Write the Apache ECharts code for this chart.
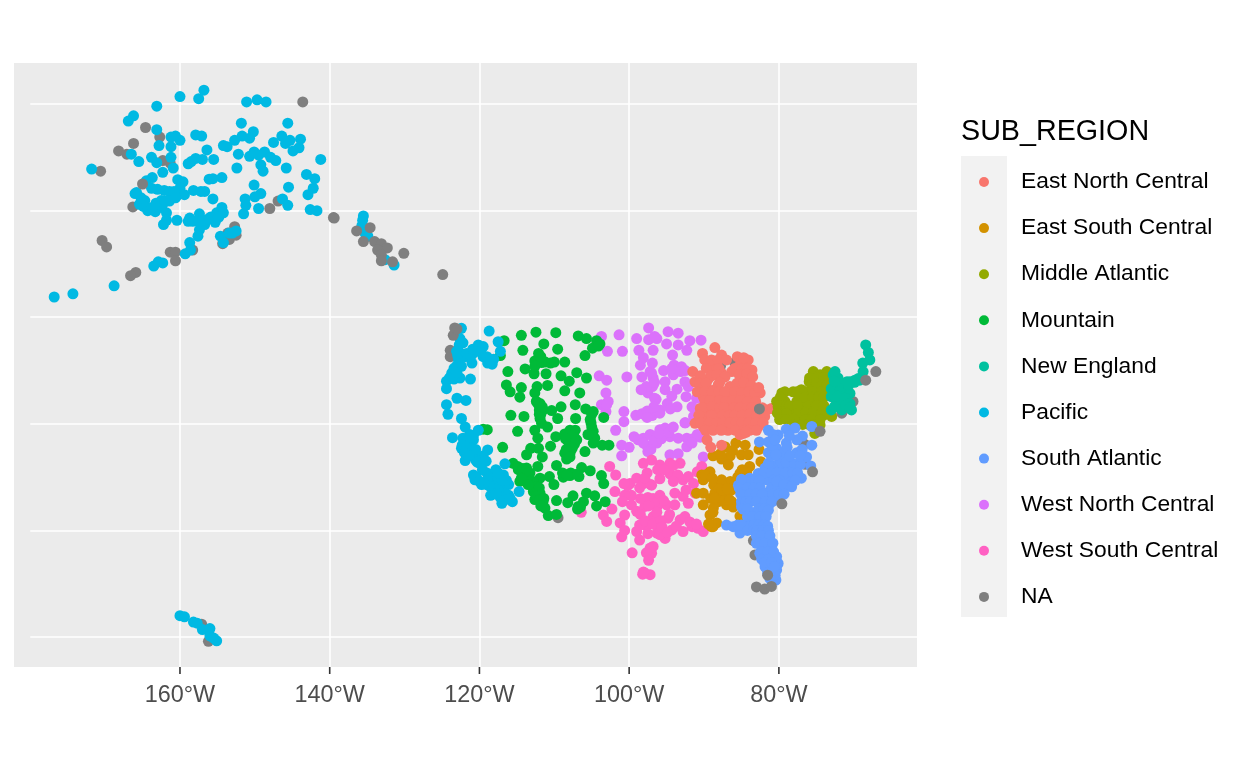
<!DOCTYPE html>
<html><head><meta charset="utf-8">
<style>html,body{margin:0;padding:0;background:#fff}#c{width:1248px;height:768px}</style>
<script src="https://cdn.jsdelivr.net/npm/echarts@6/dist/echarts.min.js"></script>
</head><body><div id="c"></div>
<script>
const lonTicks=[-160,-140,-120,-100,-80];
const latLines=[70,60,50,40,30,20];
const regionNames=['East North Central','East South Central','Middle Atlantic','Mountain','New England','Pacific','South Atlantic','West North Central','West South Central','NA'];
const regionColors=['#F8766D','#D39200','#93AA00','#00BA38','#00C19F','#00B9E3','#619CFF','#DB72FB','#FF61C3','#7F7F7F'];

const pacific=[[-156.8,71.3],[-157.5,70.5],[-160,70.7],[-163.1,69.8],[-151.1,70.2],[-149.7,70.4],[-148.5,70.2],[-166.2,68.9],[-166.9,68.4],[-163.1,67.6],[-151.8,68.2],[-145.6,68.2],[-157.9,67.1],[-157.1,67],[-160.6,67],[-161.2,66.9],[-160,66.6],[-150.2,67.4],[-151.7,67],[-150.7,66.8],[-152.7,66.6],[-146.4,67],[-145.3,66.6],[-145.9,66.3],[-143.9,66.7],[-147.5,66.4],[-162.8,66.1],[-161.2,66],[-154.2,66.1],[-153.7,66],[-156.4,65.7],[-144.1,65.9],[-144.9,65.6],[-166.5,65.3],[-150.1,65.5],[-150.7,65.1],[-148.7,65.5],[-149.5,65.2],[-152.2,65.3],[-147.9,65],[-147.2,64.7],[-141.2,64.8],[-163.8,65],[-163.1,64.5],[-161.2,65],[-165.5,64.6],[-155.5,64.8],[-157,64.8],[-157.9,64.9],[-158.5,64.6],[-158.9,64.4],[-149.2,64.3],[-148.9,63.7],[-152.4,64],[-145.8,64],[-160.9,64],[-162.3,63.6],[-171.8,63.9],[-143.1,63.4],[-142,63],[-163.7,63.1],[-164.5,62.8],[-154.4,63.1],[-156.1,62.95],[-155.6,63],[-160.3,62.9],[-159.6,62.7],[-150.1,62.4],[-142.2,62.1],[-145.5,62.2],[-163.8,62.1],[-163,62],[-162.1,61.9],[-161.4,61.8],[-160,62.1],[-160.2,61.5],[-159.4,61.5],[-158.2,61.9],[-157.2,61.8],[-156.7,61.8],[-165.8,61.7],[-166,61.6],[-142.9,61.5],[-149.2,61.6],[-150,61.3],[-151.3,61.1],[-155.6,61.1],[-146.3,61.1],[-164.7,60.95],[-165.4,60.6],[-162.5,60.95],[-161.4,60.9],[-162.3,60.6],[-151.2,60.5],[-145.6,60.5],[-164.9,60.4],[-164.3,60],[-163.3,59.9],[-162.5,60.3],[-161.8,59.8],[-149.5,60.2],[-142.6,60.1],[-141.7,60],[-154.4,60.3],[-155.1,59.8],[-154.2,59.8],[-151.5,59.7],[-157.4,59.7],[-155.9,59.4],[-158.7,59.3],[-160.4,59.1],[-158.9,59],[-161.8,59.1],[-162.2,58.7],[-155.3,58.9],[-156.7,58.7],[-157.1,58.8],[-157.4,58.2],[-157.6,57.6],[-154.6,57.6],[-154.2,57],[-153.4,57.9],[-152.5,58.1],[-158.7,57],[-158.6,56.3],[-159.3,55.95],[-162.3,55.1],[-162.9,55.2],[-163.5,54.8],[-168.8,52.95],[-174.3,52.2],[-176.8,51.9],[-163.2,60.7],[-163.7,60.3],[-162,60.9],[-160.8,61.8],[-160.6,61.2],[-158.3,59],[-156.3,59.2],[-154.8,59.4],[-153,57.9],[-157.4,59],[-165.2,61.2],
[-135.5,59.5],[-135.6,59.1],[-135.7,58.6],[-135.3,57.9],[-134.9,57.6],[-132.6,55.4],[-131.4,54.9],
[-160,22],[-159.4,21.9],[-158.2,21.4],[-157.7,21.3],[-157,20.7],[-156,20.8],[-156,20.1],[-155.1,19.65],[-155.5,19.9],
[-122.4,48.96],[-122.6,48],[-122.7,47.4],[-123.05,46.8],[-122.8,46],[-123.1,45.4],[-123.7,44.75],[-124.4,44],[-124.4,43.3],[-122.6,44.3],[-121.2,44.2],[-118.7,48.7],[-120.15,47.4],[-119.5,47.25],[-117.5,47.7],[-117.2,46.8],[-121,46.5],[-121.9,46.3],[-121,45.7],[-119.5,46.3],[-118.8,45.8],[-118.1,46.05],[-118.9,45.7],[-123,42.4],[-121.8,42.2],[-124.4,41.8],[-124.2,40.9],[-122.4,40.5],[-121.9,39.7],[-120.15,39.4],[-123.6,38.7],[-121.3,39],[-120.8,38.5],[-122.2,38.65],[-122.4,37.7],[-121,37.7],[-118.9,37.55],[-121.9,36.55],[-120,36.9],[-119.9,36.3],[-120.8,35.2],[-120.6,34.75],[-119,35.4],[-117.8,35.7],[-116.8,35.2],[-116.6,36.25],[-119.7,34.3],[-118.5,33.3],[-118.1,34.4],[-117.25,34.1],[-116.1,34.3],[-117,32.55],[-117.25,33.5],[-115.6,32.7],[-114.7,33.65],[-116.1,33.3],[-118.1,34.9],[-121,37.25],[-121.5,38.2],[-120.6,36.9],[-117.5,34.9],[-119,34.7],
[-123,48.4],[-122.2,47.6],[-122.9,46.4],[-122.5,46.6],[-123.4,45.2],[-124,44.3],[-123.4,44.2],[-121.7,46.6],[-120.9,47],[-119.8,46.7],[-119,46.3],[-118.3,45.6],[-118.5,46],[-122.4,45.4],[-123,44.8],[-122,38.3],[-122.3,38],[-121.4,37.5],[-121.7,37.9],[-121.2,37.3],[-122,37.3],[-120.5,37.6],[-120.8,38.9],[-121.2,38.7],[-119.5,37],[-120.5,36.6],[-121.4,37],[-120.3,36.4],[-119.1,36.5],[-119.6,35.7],[-117.6,34.4],[-116.9,33.4],[-116.6,33.5],[-117.2,33.1],[-117.5,33.8],[-118,33.9],[-118.5,34.1],[-119,34.3],[-118.7,34.2],[-117.7,33.4],[-116.6,32.9],[-116.4,34.7],[-117,34.7],[-117.5,35.4],[-116.8,32.8],[-115.9,33],[-120.4,35],[-119.4,34.4],[-120,34.6]];

const mountain=[[-114.4,48.3],[-112.45,48.6],[-109.8,48.55],[-106.8,48.25],[-105.7,48],[-104.35,47.8],[-104.9,47.1],[-116.7,47.8],[-111.4,47.5],[-114.2,46.9],[-109.55,47],[-112.1,46.6],[-112.6,45.9],[-111.2,45.8],[-110,45.8],[-110.5,45.7],[-108.6,45.8],[-105.9,46.4],[-117.2,46.4],[-116.2,44.9],[-113.9,45.15],[-112.7,44.7],[-111.1,44.7],[-109.1,44.5],[-107,44.8],[-105.7,44.3],[-108,44],[-116.4,43.65],[-115.9,43],[-114.4,43.4],[-110.9,43.6],[-112.3,43.5],[-112.6,42.9],[-108.6,43.1],[-106.6,42.9],[-114.6,42.5],[-112.4,42.1],[-112,41.3],[-110.35,41.25],[-109.1,41.6],[-107.2,41.8],[-105.8,41.4],[-104.8,41.15],[-115.8,40.8],[-114.05,40.7],[-111.9,40.5],[-109.55,40.5],[-107.15,40.5],[-105.2,40.4],[-103.4,40.6],[-111.7,40.05],[-110.9,39.7],[-105,39.7],[-104.8,39.3],[-114.9,39.3],[-112.6,39.4],[-112.2,38.65],[-109.8,38.8],[-108.6,39.05],[-107.2,39.4],[-107.7,38.65],[-107,38.5],[-104.6,38.65],[-104.8,38.2],[-103.6,38],[-102.7,38],[-118.95,39.45],[-119.5,39.5],[-116.9,37.8],[-113.15,37.7],[-112.1,37.7],[-113.7,37.1],[-111.6,36.9],[-110.5,37.9],[-108.6,37.25],[-107.9,37.25],[-108.35,36.7],[-105.9,37.4],[-115.5,36.3],[-114.8,35.7],[-113.7,35.85],[-114.15,35.2],[-114.6,34.6],[-112.2,36],[-109.7,36.1],[-108.9,35.4],[-107.9,35.15],[-108.8,35],[-106.7,35.05],[-106.35,35.9],[-105.2,35.6],[-110.65,35.05],[-111.9,34.9],[-112.8,34.6],[-110.05,34.3],[-103.7,35.15],[-103.4,34.4],[-112.8,33.65],[-111.9,33.5],[-112.6,32.9],[-111.5,32.7],[-111.25,32.1],[-110.8,31.4],[-109.7,31.5],[-109.7,32.8],[-108.2,32.6],[-107.5,33.25],[-106.8,32.25],[-106.1,32.7],[-105.7,33.5],[-104.6,33.25],[-104.35,32.3],[-103.2,32.7],[-111.9,41.9],[-108.1,38.3],[-107.9,39.4],[-105.2,39],[-113.25,35.4],[-113.7,34.75],[-112.4,34.1],[-111.5,41.3],
[-112.2,41.9],[-112,40.9],[-111.8,40.9],[-111.6,41.6],[-105,40.9],[-105.1,40.1],[-104.9,38.9],[-105.5,39],[-107.3,38.1],[-107.6,37.7],[-107.3,38.7],[-108.2,39],[-108.5,38.6],[-108.4,37.6],[-107.9,36.9],[-114.9,36],[-114.2,35.8],[-113.9,35.5],[-114.4,34.9],[-113.5,34.3],[-112,34],[-112.4,33.2],[-111.9,32.9],[-111.4,33],[-111.8,32.3],[-107.8,35.4],[-106.9,35.3],[-108.3,35.2],[-106.5,32.2],[-106.9,32],[-112.6,45.4],[-111.7,45.75],[-103.9,47.5],[-104.1,47.3],[-111.8,46.3]];

const westNorthCentral=[[-103.7,48.2],[-101.35,48.35],[-99,48],[-97.4,49],[-97.4,47.9],[-96.3,48],[-102.9,46.8],[-100.9,46.8],[-98.7,46.9],[-96.8,46.9],[-98.5,45.5],[-97.2,44.9],[-104,44.5],[-103,44.1],[-100.3,44.4],[-98.3,44.4],[-96.8,44.3],[-96.9,43.5],[-97.5,42.9],[-96.4,42.3],[-103.1,42.9],[-102.8,42.1],[-103.7,41.8],[-103.1,41.15],[-100.7,41.15],[-100.7,40.2],[-99.1,40.8],[-98.3,40.95],[-96.9,40.8],[-95.9,41.3],[-101.8,39.4],[-99.35,38.8],[-98.1,38.65],[-97.2,39],[-95.9,39.45],[-97.6,37.9],[-96.3,38.2],[-101,38],[-100,37.8],[-101,37],
[-96.6,48.2],[-94.8,48.65],[-93.45,48.5],[-95,47.5],[-93.45,47.4],[-91.9,47.8],[-90.4,47.85],[-92.3,46.9],[-94.2,46.45],[-94,45.5],[-93,45.35],[-92.55,43.95],[-95.2,43.95],[-95.2,43.2],[-93.6,43.25],[-94.3,42.6],[-96.6,42.4],[-92.4,42.55],[-91,42.4],[-93.6,41.6],[-97,40.8],[-91.6,41.6],[-91.4,40.7],[-92.55,40.1],[-97,44.75],[-96.8,43.65],[-95.2,39.6],[-96.3,38.8],[-94.55,38.8],[-92.3,38.65],[-90.5,38.75],[-93.45,38.65],[-97,38],[-92.3,37.85],[-94.55,37.1],[-93.45,37.2],[-90.1,36.9],
[-95.9,41],[-94.9,41.9],[-94.5,41.4],[-92.1,43.5],[-94.1,44.6],[-93.1,44.9],[-92.5,45],[-95.4,45],[-97.7,43.5],[-98.4,43.2],[-96.7,41.6],[-97.6,41.2],[-97.6,40.6],[-98.8,38.5],[-96.7,38.4],[-98.1,38.2],[-97.1,37.6],[-97.5,37.4],[-95.7,38.6],[-96,39.1],[-94.7,39.2],[-94.1,39.7],[-91.5,38.6],[-90.9,39],[-91.6,38.2],[-92.5,40.1],[-94.3,45.2],[-96.6,43.9],[-98.1,46.2],[-96.9,45.7],[-103,41.8]];

const westSouthCentral=[[-95.9,36.15],[-94.55,36.3],[-93.2,36.3],[-94.55,35.3],[-95.9,34.85],[-97,34.25],[-92.8,34.75],[-92.1,35.05],[-90.3,36],[-91.2,33.5],[-93.9,33.5],[-92.8,33.2],[-92.1,32.55],[-96.8,33],[-95,32.4],[-93.9,32.4],[-94.8,31.15],[-93.2,31],[-92.55,31.3],[-91.6,30.35],[-94.3,30.05],[-95.2,29.25],[-96.3,32.25],[-96.6,31],[-96.3,29.75],[-96.8,28.5],[-97,27.85],[-90.1,29.9],[-90.8,30.2],[-92.8,29.9],[-97.2,25.85],
[-102.6,36],[-101.8,35.2],[-97.6,35.4],[-97,36.6],[-98.1,36.3],[-99.9,34.4],[-99,34.9],[-98.1,34.4],[-97.1,34.3],[-101.9,33.65],[-98.6,34],[-99.7,32.4],[-99,31.8],[-97.2,32.9],[-95.9,33.3],[-96.3,32.25],[-97.9,32.25],[-96.8,31.3],[-102.3,32],[-103.45,31.45],[-103,30.85],[-100.6,31.45],[-101.2,30.7],[-99,29.9],[-101,29.4],[-97.7,30.4],[-106.4,31.7],[-97.9,26],[-99.6,27.9],[-98.6,29.1],[-95.9,29.6],[-97.2,28.35],[-98.2,25.9],[-100.6,30],[-98.6,30.5],
[-95.4,32.8],[-96.7,32.6],[-97.5,33.1],[-98.5,33],[-97.4,32.3],[-96.3,31.7],[-98.5,31.5],[-97.9,30.9],[-96.8,30.6],[-95.7,30.9],[-95.6,30.3],[-97.5,29.7],[-94.6,31.5],[-94.9,29.8],[-93.7,30.4],[-91.9,30.8],[-91,30.6],[-97.7,27.9],[-97.4,27.2],[-98.1,26.1],[-99.7,33.3],[-100.6,33.3],[-100.9,32.7],[-100.2,34.2],[-100.7,34.4],[-96.2,35.7],[-95.3,35.7],[-93.5,35.2],[-94.1,34.6],[-91.4,34.4],[-90.9,35.5],[-92.4,33.8],[-94.1,36.1],[-97.9,34.9]];

const eastNorthCentral=[[-88.55,47.15],[-90.2,46.6],[-87.65,46.45],[-85.55,46.3],[-84.1,46],[-89.9,46],[-91.5,44.9],[-87.65,44.75],[-86.3,44.9],[-83.6,45.05],[-85.2,45.5],[-88.7,45.2],[-91.2,43.95],[-89.4,44.25],[-88.1,43.65],[-89.4,43.2],[-87.4,42.7],[-90.1,42.55],[-88.7,42.2],[-90.5,41.45],[-91.2,40.05],[-89.6,40.7],[-88.3,41.15],[-86.75,41.75],[-85.4,43.2],[-83.9,44.1],[-84.3,43.3],[-82.5,42.9],[-83.4,42.4],[-84.5,41.75],[-85.6,41],[-84.5,40.7],[-87,40.35],[-88.55,39.75],[-86.1,39.75],[-83.9,40.05],[-84.75,39.1],[-82.5,40.7],[-81.6,41.3],[-81,41.45],[-89.6,38.5],[-89.1,37.8],[-87.65,38],[-82.75,39.75],[-83,41.3],[-87.85,41.75],[-90.1,39.75],[-86.55,43.5],[-86.1,42.55],[-84.75,42.55],[-88.55,43.2],[-88.1,40.5],[-89.65,41.6],[-86.55,41],[-87.65,39.75],[-85.4,40.05],[-86.8,39.4],[-83.65,40.7],[-83.4,43.2],[-85.2,39.4],[-89,41.3],[-90.55,40.5],
[-89,46],[-88.1,46],[-87,46],[-85,46],[-84.7,46.2],[-89.7,45.2],[-88,45.2],[-85.9,45.2],[-84.9,45.2],[-84.2,45.2],[-90.5,44.5],[-89,44.5],[-88.3,44.6],[-87.2,44.4],[-85.3,44.6],[-84.3,44.7],[-83.5,44.4],[-90.6,43.8],[-89.7,43.8],[-87.9,43.9],[-85.6,43.8],[-84.7,43.9],[-83.7,43.6],[-90.9,43],[-89.9,43],[-88.9,43],[-88,43],[-87.2,43],[-85.9,43],[-85,42.9],[-84,43],[-83.2,42.9],[-82.7,43.4],[-89.9,42.2],[-89.2,42.2],[-87.9,42.2],[-87.1,42.1],[-86.2,42.2],[-85.2,42.2],[-84.2,42.1],[-83.1,42.1],[-90.2,41.5],[-88.9,41.6],[-87.9,41.5],[-87.3,41.5],[-86,41.5],[-85.2,41.5],[-84.2,41.5],[-83.6,41.5],[-82.2,41.5],[-90.7,40.8],[-89,40.8],[-87.5,40.8],[-86.6,40.8],[-85.9,40.8],[-84.9,40.8],[-83.9,40.9],[-83,40.8],[-81.9,40.7],[-90.4,40.1],[-89.3,40.1],[-88.3,40.1],[-87.5,40.1],[-86.5,40.1],[-85.7,40.1],[-84.9,40.1],[-84,40.1],[-83.1,40.1],[-82.1,40.1],[-89.8,39.4],[-88.8,39.4],[-87.7,39.4],[-85.8,39.4],[-84.6,39.4],[-83.9,39.4],[-83,39.4],[-85.2,39],[-84.4,39.2]];

const eastSouthCentral=[[-87.2,37.85],[-85.75,38.2],[-84.5,38],[-82.65,37.6],[-88.8,37],[-86.5,37],[-87.65,36.7],[-86.75,36.15],[-85,37.1],[-84.1,37.1],[-82.4,36.45],[-83.9,36],[-85.2,35.35],[-84.3,35.5],[-90.1,34.75],[-89.2,35.5],[-87.65,34.75],[-86.5,34.6],[-88.7,34.25],[-91,33.5],[-90.1,33.5],[-88.55,33.5],[-87.2,33.35],[-86.3,33.8],[-90.1,32.4],[-88.75,32.1],[-89.2,31.45],[-87,32.4],[-88.1,32.7],[-86.3,32.7],[-85.2,31.35],[-88.8,30.35],[-88.3,30.7],[-89,30.35],[-87.65,34.4],[-90.3,35.2],
[-89.9,35.2],[-88.9,34.9],[-88,33.9],[-87.9,33.2],[-87.6,32.9],[-89.1,33],[-88.6,33],[-88.8,31.7],[-87.6,33.8],[-86.9,33.9],[-89.4,30.6],[-86.1,32.2],[-87.3,32.8],[-86.6,32.9],[-84.9,35.7],[-85.5,35],[-86.2,37.5],[-87.8,37.2]];

const middleAtlantic=[[-80.3,42.1],[-79.2,43],[-78.1,43],[-77,43.2],[-75.95,43.95],[-75.4,44.9],[-74.5,44.6],[-73.85,44.1],[-74.95,43.2],[-76.3,42.1],[-77,41.6],[-74.3,42.1],[-75.4,41.3],[-77.2,40.4],[-74.95,40.5],[-74.1,40.8],[-72.95,40.7],[-79.6,41],[-78.1,41.15],[-74.5,39.9],[-75.2,39.1],[-76.1,42.7],[-79.2,42.1],[-73.6,44.9],[-80.1,41.6],[-75.85,40.2],[-76.5,41.15],[-77.6,42.1],[-78.5,40.5],
[-75.9,44.3],[-74.9,44.3],[-74,44.3],[-75.6,43.6],[-75,43.8],[-74.3,43.6],[-73.6,43.6],[-79.6,42.9],[-77.6,43],[-76.5,43],[-75.5,43],[-74.3,43],[-73.6,43],[-79.8,42.5],[-77.1,42.5],[-76.5,42.5],[-75.5,42.5],[-74.7,42.5],[-74,42.5],[-80,41.7],[-79,41.7],[-78.6,41.7],[-77.5,41.7],[-76,41.7],[-75,41.7],[-74,41.7],[-80.2,41],[-79,41],[-77.4,41],[-76.4,41],[-75.4,41],[-74.3,41],[-73.7,41],[-79.9,40.4],[-79,40.4],[-78,40.4],[-76.5,40.4],[-75.6,40.4],[-74.5,40.4],[-77.9,39.95],[-76.8,39.95],[-76,39.95],[-75.3,39.95]];

const newEngland=[[-68.4,47.4],[-68.05,46.7],[-67.85,46],[-68.8,45.7],[-68.75,44.9],[-69.4,44.25],[-70.5,43.95],[-71.2,43.65],[-72.75,44.6],[-72.5,43.5],[-73,43.3],[-71.6,42.85],[-70.5,42.85],[-70.95,42.1],[-72.3,42.1],[-70.3,41.3],[-71.6,41.3],[-73,41.3],[-69.2,44.1],[-69.85,44.1],[-72.1,44.3],[-73,42.55],[-71.85,41.75],
[-72.5,44.9],[-72.2,43.9],[-71.6,43.3],[-71,43.2],[-70.7,43.6],[-71.9,43],[-72.8,42.7],[-72.1,42.6],[-71.2,42.4],[-70.5,41.9],[-72.6,41.6],[-71.1,41.7],[-70.5,41.5],[-69.9,43.9],[-72.6,44],[-70.9,43.95]];

const southAtlantic=[[-81.4,39.4],[-80.1,38.95],[-79,39.5],[-77.85,39.6],[-75.6,39.75],[-76.85,38.85],[-75.6,38],[-82.6,38.3],[-81.4,38.3],[-80.3,37.7],[-79,38.2],[-77.6,38.5],[-81.4,37.3],[-79.4,37.3],[-77.6,37.3],[-76.3,36.9],[-75.75,36.05],[-80.3,36.15],[-81.85,35.85],[-78.75,36],[-77.6,35.85],[-77,34.9],[-82.75,35.35],[-84.3,34.25],[-85.4,34.25],[-81.65,34.75],[-79.85,35.05],[-78.5,34.75],[-84.75,33.35],[-83.4,33.2],[-81.65,33.5],[-79.4,33.8],[-85,32.25],[-82.55,32.85],[-83.9,31.75],[-81.2,32.55],[-80.5,32.85],[-81.65,31.75],[-87,30.5],[-85.2,29.75],[-83.9,30.35],[-81.9,30.65],[-81.65,29.4],[-81,28.5],[-82.55,27.85],[-80.3,27.55],[-81.65,26.9],[-80.3,26.3],[-80.4,25.35],[-81.85,26.6],[-84.3,30.65],[-86.1,30.35],[-83,31],[-81.9,28.5],[-80.1,26.9],[-83.9,34.9],[-80.3,34.1],[-83,31.75],[-82.5,30],[-81.2,29.1],[-83,28.8],[-82.1,27.55],[-81,35.7],[-79.4,35.7],
[-81.4,36.3],[-79.7,36.4],[-79,36.4],[-77.9,36.2],[-77.1,36.2],[-82,35.4],[-81,35.4],[-80.3,35.4],[-79.1,35.4],[-78.1,35.4],[-77.5,35.4],[-85,34.8],[-83.1,34.7],[-82.6,34.7],[-80.7,34.7],[-79.9,34.7],[-77.8,34.7],[-85.3,34],[-84.2,34],[-83.3,34],[-82.5,34],[-81,34],[-80.3,34.6],[-79.3,34.3],[-78.3,34.1],[-85.1,33.4],[-83.9,33.4],[-83,33.4],[-82.2,33.4],[-80.8,33.4],[-80,33.4],[-79.3,33.4],[-85,32.7],[-84.4,32.7],[-83.8,32.7],[-83,32.7],[-81.8,32.7],[-80.9,32.7],[-84.8,32],[-84.2,32],[-82.7,32],[-82,32],[-81.4,31.9],[-84.2,31.3],[-83.5,31.3],[-82.5,31.3],[-81.7,31.3],[-85.5,30.5],[-85,30.5],[-83.3,30.5],[-82.7,30.5],[-82,30.5],[-81.5,30.4],[-84.2,30],[-83.4,30],[-82.9,30],[-82.1,30],[-81.4,30],[-83,29.5],[-82.3,29.5],[-81.2,29.5],[-82.6,28.8],[-81.9,28.8],[-80.8,28.8],[-82.4,28],[-81.5,28],[-80.7,28],[-82.3,27.3],[-81.4,27.3],[-80.4,27.3],[-81.7,26.5],[-80.9,26.5],[-80.5,25.8],[-81,25.8],[-80.8,39],[-78.6,38.9],[-80.9,37.9],[-78.9,37.8],[-80.5,38.5],[-81,37],[-80.4,37.1],[-78.5,37],[-76.9,37.6],[-77.2,37],[-81.9,27],[-81,27],[-81.5,26],[-81.2,25.5],[-80.6,26.6]];

const naLower=[[-143.6,70.2],[-164.6,67.8],[-162.7,66.9],[-166.2,66.3],[-168.2,65.6],[-167.1,65.3],[-162.3,64.7],[-161.3,64.45],[-170.6,63.7],[-166.3,60.35],[-146.9,60.9],[-148,60.2],[-139.5,59.35],[-170.4,57.2],[-169.8,56.6],[-161.3,56.1],[-160.6,56.1],[-160.6,55.3],[-165.9,54.2],[-166.6,53.9],[-152.7,58.5],[-153.6,57.9],[-153.4,57.3],[-154.3,56.9],[-158.3,56.3],[-152.5,57.7],[-156.2,19.6],[-157.1,21.2],[-123.9,46.9],[-123.9,46.3],[-109.5,31.2],[-87.8,45.4],[-84.75,46],[-85.9,45.75],[-76.6,38.1],[-76.5,36.2],[-83.4,29.05],[-83.2,27.7],[-71.6,41],[-70.1,42.1]];

const naUpper=[[-165,62.5],[-123.3,49],[-123.5,48.3],[-123,48.9],[-139.4,59.3],[-136.4,58.1],[-134.6,58.4],[-135.5,57.1],[-134,57.1],[-133.1,56.9],[-132.3,56.5],[-133.6,56.3],[-133.1,55.85],[-130.1,56],[-133.1,55.3],[-131.6,55.2],[-124.9,54],[-82.6,41.4],[-67.05,44.9],[-68.4,44.1],[-74.5,39.3],[-75.5,35.5],[-81.5,25.8],[-83,24.7],[-81.9,24.5],[-81,24.75],[-79.6,32.5]];

const xMin=-182.17, xMax=-61.55, yMin=17.19, yMax=73.85;
const drawOrder=[
 ['NA',naLower],['West North Central',westNorthCentral],['West South Central',westSouthCentral],
 ['East South Central',eastSouthCentral],['Mountain',mountain],['Pacific',pacific],
 ['East North Central',eastNorthCentral],['Middle Atlantic',middleAtlantic],['New England',newEngland],
 ['South Atlantic',southAtlantic],['NA',naUpper]];
const FONT='"Liberation Sans",Arial,sans-serif';
const series=drawOrder.map(([name,data])=>({
  type:'scatter',name,data,symbol:'circle',symbolSize:11,z:3,silent:true,
  itemStyle:{color:regionColors[regionNames.indexOf(name)],opacity:1}
}));
series.unshift({type:'scatter',data:[],silent:true,z:1,
  markLine:{silent:true,symbol:'none',z:1,label:{show:false},animation:false,
    lineStyle:{color:'#fff',width:1.6,type:'solid'},
    data:latLines.map(l=>[{coord:[-180,l]},{coord:[xMax,l]}])}});
// Axis tick marks, placed through the x scale and hanging below the panel
series.push({type:'custom',silent:true,z:2,clip:false,data:lonTicks.map(v=>[v,yMin]),
  encode:{x:0,y:1},
  renderItem:(p,api)=>{const c=api.coord([api.value(0),api.value(1)]);
    return {type:'line',shape:{x1:c[0],y1:c[1],x2:c[0],y2:c[1]+7},style:{stroke:'#333333',lineWidth:1.6}};}});
const chart=echarts.init(document.getElementById('c'),null,{renderer:'canvas',width:1248,height:768});
chart.setOption({
  animation:false,backgroundColor:'#fff',
  title:{text:'SUB_REGION',left:956,top:113,textStyle:{fontFamily:FONT,fontSize:28.7,fontWeight:'normal',color:'#000'}},
  grid:{show:true,left:14,top:63,width:903,height:604,backgroundColor:'#EBEBEB',borderWidth:0},
  xAxis:{type:'value',min:xMin,max:xMax,
    axisLine:{show:false},
    axisTick:{show:false,customValues:lonTicks},
    axisLabel:{customValues:lonTicks,margin:17,color:'#4D4D4D',fontFamily:FONT,fontSize:23.4,formatter:v=>Math.abs(v)+'°W'},
    splitLine:{show:true,lineStyle:{color:'#fff',width:1.6}}},
  yAxis:{type:'value',min:yMin,max:yMax,axisLine:{show:false},axisTick:{show:false},axisLabel:{show:false},splitLine:{show:false}},
  legend:{data:regionNames,orient:'vertical',left:979,top:169,padding:0,icon:'circle',itemWidth:10,itemHeight:10,itemGap:20.1,selectedMode:false,
    textStyle:{fontFamily:FONT,fontSize:22.8,color:'#000',lineHeight:26,padding:[0,0,0,27]}},
  graphic:[{type:'rect',left:961,top:156,z:-1,shape:{width:46,height:461},style:{fill:'#F2F2F2'},silent:true}],
  series
});
</script></body></html>
